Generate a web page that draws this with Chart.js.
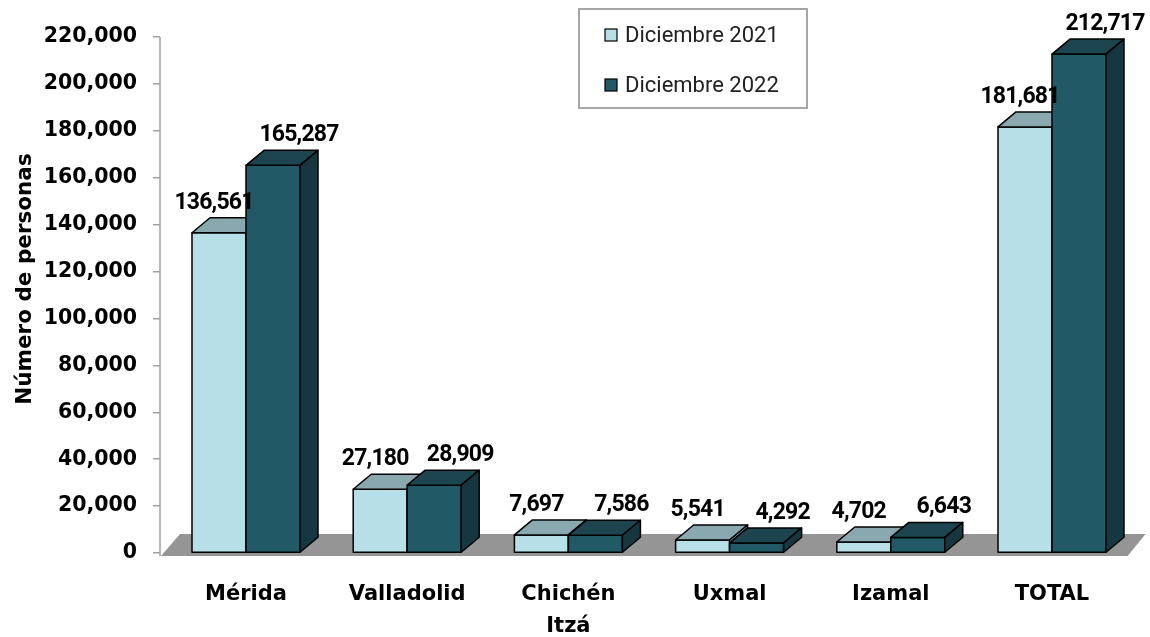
<!DOCTYPE html>
<html>
<head>
<meta charset="utf-8">
<title>Número de personas</title>
<script src="https://cdn.jsdelivr.net/npm/chart.js@4.4.1/dist/chart.umd.min.js"></script>
<style>
  html, body { margin: 0; padding: 0; background: #fff; }
  #wrap { width: 1150px; height: 637px; }
</style>
</head>
<body>
<div id="wrap"><canvas id="chart1" width="1150" height="637"></canvas></div>
<script>
const categories = ["Mérida", "Valladolid", ["Chichén", "Itzá"], "Uxmal", "Izamal", "TOTAL"];
const seriesNames = ["Diciembre 2021", "Diciembre 2022"];
const dic2021 = [136561, 27180, 7697, 5541, 4702, 181681];
const dic2022 = [165287, 28909, 7586, 4292, 6643, 212717];
const yTicks = [0, 20000, 40000, 60000, 80000, 100000, 120000, 140000, 160000, 180000, 200000, 220000];

const depthX = 18;
const depthY = 15;
const faces = [
  { front: "#b7dfe8", top: "#8aa8af", side: "#6f939b" },
  { front: "#215966", top: "#1c4550", side: "#163740" },
];
const labelShift = [-5, 26];
const boldFont = "'DejaVu Sans', sans-serif";

const fmt = (v) => v.toLocaleString("en-US");

function poly(ctx, pts, fill) {
  ctx.beginPath();
  ctx.moveTo(pts[0][0], pts[0][1]);
  pts.slice(1).forEach((p) => ctx.lineTo(p[0], p[1]));
  ctx.closePath();
  ctx.fillStyle = fill;
  ctx.fill();
  ctx.stroke();
}

// axis sits a few px left of the first category, title a bit above centre
const shiftAxis = {
  id: "shiftAxis",
  afterLayout: (chart) => {
    const y = chart.scales.y;
    y.left -= 5.4;
    y.right -= 5.4;
    y.top -= 32;
  },
};

const bars3d = {
  id: "bars3d",
  beforeDatasetsDraw: (chart) => {
    const { ctx, chartArea } = chart;
    const y0 = chart.scales.y.getPixelForValue(0);
    const left = chart.scales.y.right;
    ctx.save();
    ctx.fillStyle = "#959595";
    ctx.beginPath();
    ctx.moveTo(left + 1, y0 + 3);
    ctx.lineTo(chartArea.right - 5, y0 + 3);
    ctx.lineTo(chartArea.right + 13, y0 - 19);
    ctx.lineTo(left + 20, y0 - 19);
    ctx.closePath();
    ctx.fill();
    ctx.strokeStyle = "#a0a0a0";
    ctx.lineWidth = 1.5;
    ctx.beginPath();
    ctx.moveTo(left, chartArea.top);
    ctx.lineTo(left, y0 + 3);
    ctx.stroke();
    ctx.restore();
  },
  afterDatasetsDraw: (chart) => {
    const ctx = chart.ctx;
    const metas = [chart.getDatasetMeta(0), chart.getDatasetMeta(1)];
    ctx.save();
    ctx.lineWidth = 1.5;
    ctx.strokeStyle = "#000";
    ctx.lineJoin = "round";
    categories.forEach((c, i) => {
      metas.forEach((meta, d) => {
        const bar = meta.data[i];
        const l = bar.x - bar.width / 2;
        const r = bar.x + bar.width / 2;
        const t = bar.y;
        const b = bar.base;
        poly(ctx, [[l, t], [r, t], [r, b], [l, b]], faces[d].front);
        poly(ctx, [[l, t], [l + depthX, t - depthY], [r + depthX, t - depthY], [r, t]], faces[d].top);
        poly(ctx, [[r, t], [r + depthX, t - depthY], [r + depthX, b - depthY], [r, b]], faces[d].side);
      });
    });
    ctx.font = "bold 23px Roboto";
    ctx.letterSpacing = "-0.8px";
    ctx.textAlign = "center";
    ctx.textBaseline = "alphabetic";
    ctx.fillStyle = "#000";
    metas.forEach((meta, d) => {
      meta.data.forEach((bar, i) => {
        const v = chart.data.datasets[d].data[i];
        ctx.fillText(fmt(v), bar.x + labelShift[d], bar.y - depthY - 9);
      });
    });
    ctx.restore();
  },
};

const boxLegend = {
  id: "boxLegend",
  afterDraw: (chart) => {
    const ctx = chart.ctx;
    ctx.save();
    ctx.fillStyle = "#fff";
    ctx.strokeStyle = "#a6a6a6";
    ctx.lineWidth = 2;
    ctx.fillRect(579, 9, 228, 99);
    ctx.strokeRect(579, 9, 228, 99);
    chart.data.datasets.forEach((ds, i) => {
      const cy = 35 + i * 50;
      ctx.fillStyle = ds.backgroundColor;
      ctx.fillRect(605, cy - 6, 12, 12);
      ctx.lineWidth = 1.2;
      ctx.strokeStyle = "#000";
      ctx.strokeRect(605, cy - 6, 12, 12);
      ctx.fillStyle = "#222";
      ctx.font = "22px Roboto";
      ctx.textBaseline = "middle";
      ctx.fillText(ds.label, 625, cy + 1);
    });
    ctx.restore();
  },
};

var ctx = document.getElementById("chart1");
var myChart = new Chart(ctx, {
  type: "bar",
  data: {
    labels: categories,
    datasets: [
      {
        label: seriesNames[0],
        data: dic2021,
        backgroundColor: faces[0].front,
        borderWidth: 0,
      },
      {
        label: seriesNames[1],
        data: dic2022,
        backgroundColor: faces[1].front,
        borderWidth: 0,
      },
    ],
  },
  options: {
    responsive: false,
    animation: false,
    devicePixelRatio: 1,
    categoryPercentage: 0.67,
    barPercentage: 1.0,
    layout: { padding: { top: 37, right: 17.4, bottom: 0, left: 0 } },
    plugins: {
      legend: { display: false },
      tooltip: { enabled: false },
    },
    scales: {
      x: {
        afterFit: (s) => {
          s.height = 84;
        },
        ticks: {
          font: { family: boldFont, size: 21, weight: "bold", lineHeight: 1.55 },
          color: "#000",
          padding: 25,
          maxRotation: 0,
          autoSkip: false,
        },
        grid: { display: false, drawTicks: false },
        border: { display: false },
      },
      y: {
        min: 0,
        max: 220000,
        afterFit: (s) => {
          s.width = 165.4;
        },
        afterBuildTicks: (s) => {
          s.ticks = yTicks.map((v) => ({ value: v }));
        },
        ticks: {
          callback: (v) => fmt(v),
          font: { family: boldFont, size: 20.5, weight: "bold" },
          color: "#000",
          padding: 16,
        },
        grid: { drawOnChartArea: false, tickLength: 7, color: "#a0a0a0", lineWidth: 1.5 },
        border: { display: false },
        title: {
          display: true,
          text: "Número de personas",
          font: { family: boldFont, size: 21.5, weight: "bold" },
          color: "#000",
          padding: { top: 18, bottom: 0 },
        },
      },
    },
  },
  plugins: [shiftAxis, bars3d, boxLegend],
});
</script>
</body>
</html>
